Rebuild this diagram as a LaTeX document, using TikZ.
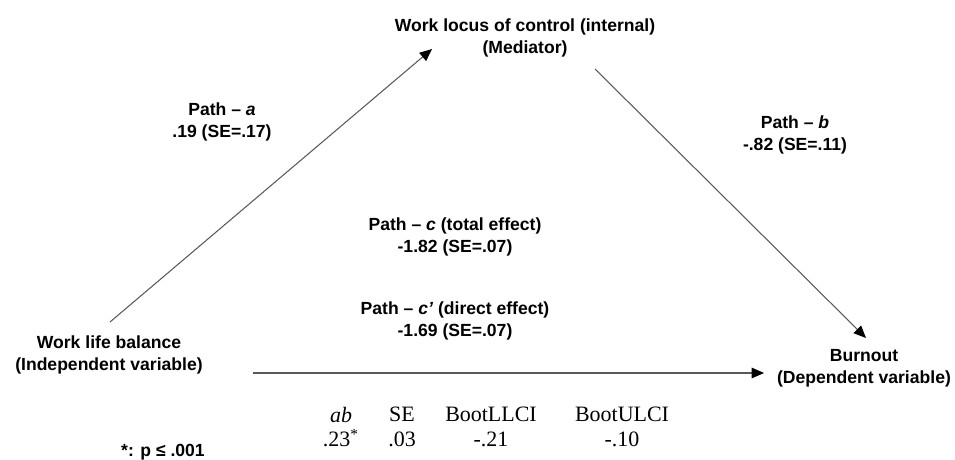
\documentclass[tikz,border=0pt]{standalone}
\usepackage{fontspec}
\setmainfont{Liberation Sans}
\newfontfamily\tabfont{Liberation Serif}
\usetikzlibrary{arrows.meta}

\tikzset{
  var/.style={align=center, inner sep=0pt, font=\bfseries\fontsize{10}{12.5}\selectfont},
  lab/.style={align=center, inner sep=0pt, font=\bfseries\fontsize{10}{12.5}\selectfont},
  tab/.style={align=center, inner sep=0pt, font=\tabfont\fontsize{12.5}{14}\selectfont},
  arr/.style={draw, gray!70!black, line width=0.6pt, -{Triangle[length=7pt,width=6pt,black]}}
}

\begin{document}
\begin{tikzpicture}[x=0.02cm, y=-0.02cm]
\useasboundingbox (0,0) rectangle (955,459);

\node[var] (M) at (525,38) {Work locus of control (internal)\\(Mediator)};
\node[var] (X) at (109,355) {Work life balance\\(Independent variable)};
\node[var] (Y) at (864,368) {Burnout\\(Dependent variable)};

\coordinate (xa) at (110,322);
\coordinate (ma) at (432,49);
\coordinate (mb) at (595,69);
\coordinate (yb) at (866,338);
\coordinate (xc) at (253,373);
\coordinate (yc) at (764,373);

\path[arr] (xa) -- (ma);
\path[arr] (mb) -- (yb);
\path[arr] (xc) -- (yc);

\node[lab] (pa) at (222,122) {Path -- \textit{a}\\.19 (SE=.17)};
\node[lab] (pb) at (795,135) {Path -- \textit{b}\\-.82 (SE=.11)};
\node[lab] (pc) at (455,237) {Path -- \textit{c} (total effect)\\-1.82 (SE=.07)};
\node[lab] (pd) at (455,321) {Path -- \textit{c’} (direct effect)\\-1.69 (SE=.07)};

\node[tab] (ab) at (341,427) {\textit{ab}\\.23\textsuperscript{*}};
\node[tab] (se) at (402,427) {SE\\.03};
\node[tab] (ll) at (491,427) {BootLLCI\\-.21};
\node[tab] (ul) at (622,427) {BootULCI\\-.10};

\node[lab] (note) at (163,452) {*: p ≤ .001};
\end{tikzpicture}
\end{document}
